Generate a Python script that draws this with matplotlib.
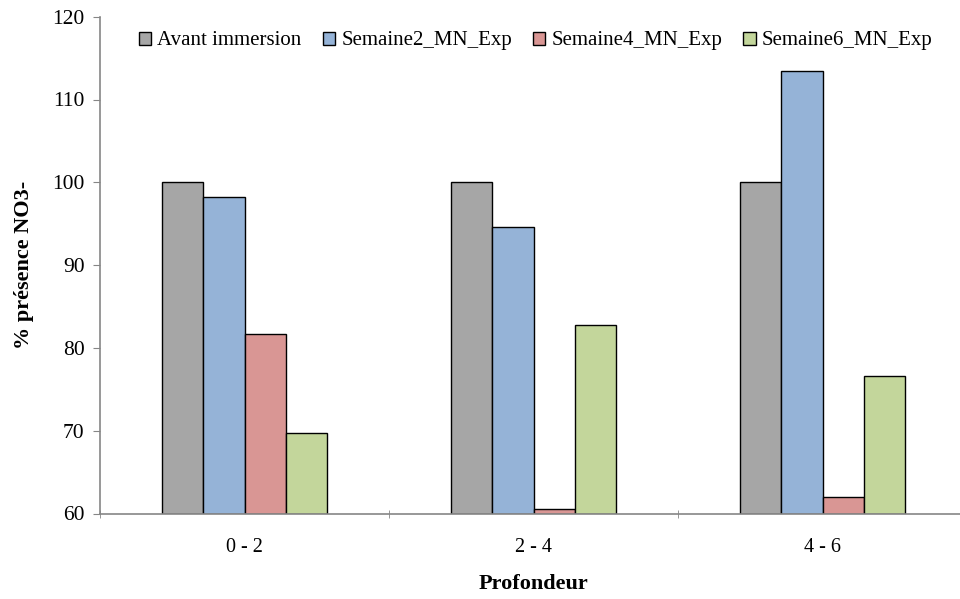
import numpy as np
import matplotlib
matplotlib.use('Agg')
from matplotlib import pyplot as plt

# data
categories = ['0 - 2', '2 - 4', '4 - 6']
avant = [100, 100, 100]
semaine2 = [98.2, 94.6, 113.4]
semaine4 = [81.7, 60.6, 62.0]
semaine6 = [69.7, 82.8, 76.6]
series_names = ['Avant immersion', 'Semaine2_MN_Exp', 'Semaine4_MN_Exp', 'Semaine6_MN_Exp']
colors = ['#a6a6a6', '#95b3d7', '#d99694', '#c3d69b']

plt.rcParams['font.family'] = ['Liberation Serif', 'DejaVu Serif']

fig = plt.figure(figsize=(9.6, 5.99), dpi=100)
ax = fig.add_axes([100/960, 1 - 513.5/599, 867/960, (513.5 - 16.7)/599])

x = np.arange(len(categories))
w = 0.143
for i, (vals, name) in enumerate(zip([avant, semaine2, semaine4, semaine6], series_names)):
    ax.bar(x + (i - 1.5) * w, np.array(vals) - 60, bottom=60, width=w,
           color=colors[i], edgecolor='black', linewidth=1.0, label=name)

ax.set_ylim(60, 120)
ax.set_xlim(-0.5, 2.5)
ax.set_yticks(np.arange(60, 121, 10))
ax.set_xticks(x)
ax.set_xticklabels(categories)
ax.set_xticks([-0.5, 0.5, 1.5, 2.5], minor=True)
ax.tick_params(axis='x', which='major', length=0, pad=18, labelsize=14.5)
ax.tick_params(axis='x', which='minor', length=6, direction='inout', color='#868686')
ax.tick_params(axis='y', length=5, color='#868686', labelsize=15.5, pad=6)

for s in ['top', 'right']:
    ax.spines[s].set_visible(False)
for s in ['left', 'bottom']:
    ax.spines[s].set_color('#868686')
    ax.spines[s].set_linewidth(1.2)

ax.set_ylabel('% présence NO3-', fontsize=16, fontweight='bold', labelpad=13)
ax.set_xlabel('Profondeur', fontsize=16, fontweight='bold', labelpad=12)

ax.legend(loc='upper left', bbox_to_anchor=(0.035, 0.987), ncol=4, frameon=False,
          fontsize=15, handlelength=0.6, handleheight=0.6, handletextpad=0.3,
          columnspacing=1.0, borderaxespad=0)

fig.savefig('out.png', dpi=100)
